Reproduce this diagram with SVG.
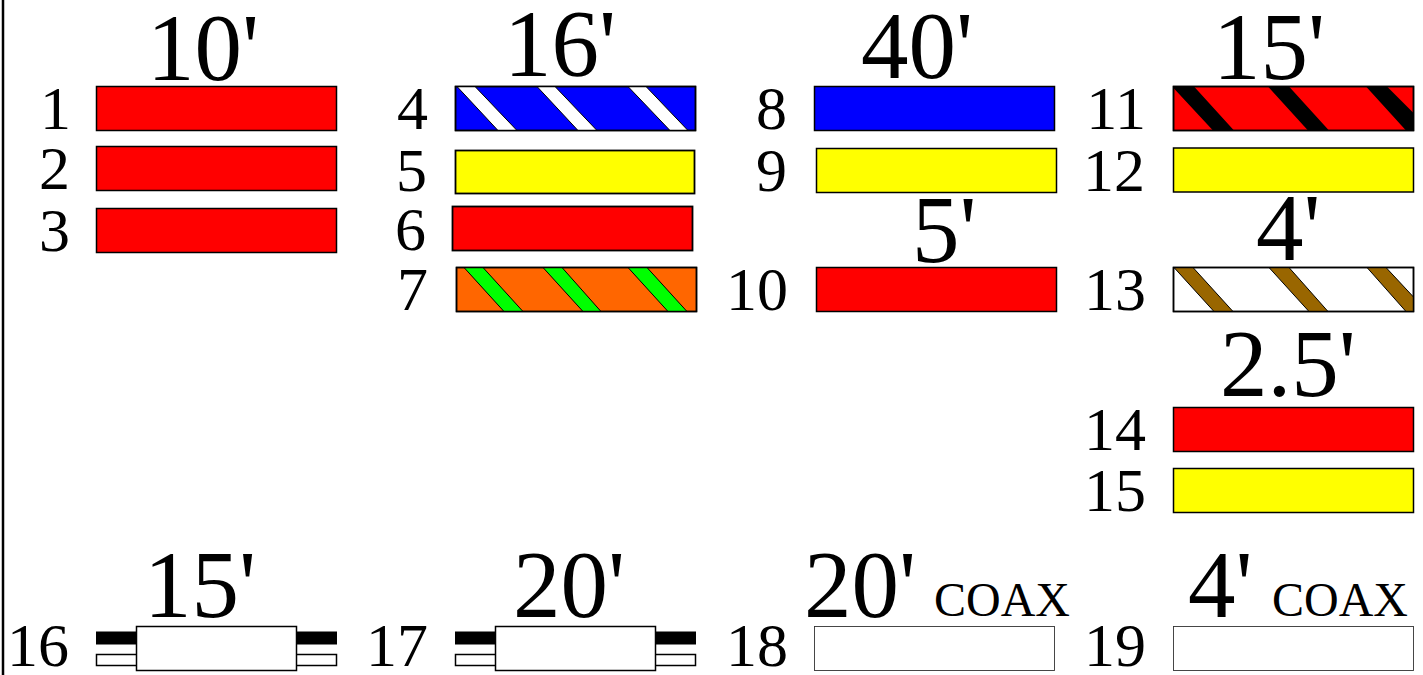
<svg xmlns="http://www.w3.org/2000/svg" width="1423" height="675" viewBox="0 0 1423 675">
<style>
text{font-family:"Liberation Serif","Times New Roman",serif;fill:#000}
.t{font-size:95px}
.n{font-size:62px;text-anchor:end}
.c{font-size:48px}
.b{stroke:#000;stroke-width:1.5}
.h{stroke:#000;stroke-width:1.8}
.red{fill:#f00}.yel{fill:#ff0}.blu{fill:#00f}.org{fill:#f60}.wht{fill:#fff}
.s{stroke:#000;stroke-width:1}
</style>
<rect width="1423" height="675" fill="#fff"/>
<g id="frame"><line x1="3" y1="0" x2="3" y2="675" stroke="#000" stroke-width="2.5"/></g>
<g id="titles">
<text class="t" x="147" y="80">10'</text>
<text class="t" x="504" y="76">16'</text>
<text class="t" x="861" y="78">40'</text>
<text class="t" x="1213" y="79">15'</text>
<text class="t" x="912" y="262">5'</text>
<text class="t" x="1256" y="260">4'</text>
<text class="t" x="1220" y="396">2.5'</text>
<text class="t" x="144" y="617">15'</text>
<text class="t" x="513" y="617">20'</text>
<text class="t" x="804" y="617">20'</text>
<text class="c" x="934" y="616">COAX</text>
<text class="t" x="1188" y="617">4'</text>
<text class="c" x="1272" y="616">COAX</text>
</g>
<g id="n1"><text class="n" x="71" y="129">1</text><rect class="b red" x="96.5" y="86.5" width="240" height="44"/></g>
<g id="n2"><text class="n" x="70" y="189">2</text><rect class="b red" x="96.5" y="146.5" width="240" height="44"/></g>
<g id="n3"><text class="n" x="70" y="251">3</text><rect class="b red" x="96.5" y="208.5" width="240" height="44"/></g>
<g id="n4"><text class="n" x="428" y="129">4</text><rect class="b blu" x="455.5" y="86.5" width="240" height="44"/>
<path class="s wht" d="M457 86.5H475L517 130.5H498ZM537 86.5H555L597 130.5H578ZM628 86.5H646L688 130.5H670Z"/><rect x="455.5" y="86.5" width="240" height="44" fill="none" class="b"/></g>
<g id="n5"><text class="n" x="427" y="191">5</text><rect class="h yel" x="455.5" y="150.5" width="239" height="43"/></g>
<g id="n6"><text class="n" x="426" y="250">6</text><rect class="h red" x="452.5" y="206.5" width="240" height="44"/></g>
<g id="n7"><text class="n" x="428" y="310">7</text><rect class="b org" x="456.5" y="267.5" width="240" height="44"/>
<path class="s" fill="#0f0" d="M464 267.5H483L523 311.5H504ZM543 267.5H562L601 311.5H583ZM628 267.5H647L687 311.5H668Z"/><rect x="456.5" y="267.5" width="240" height="44" fill="none" class="b"/></g>
<g id="n8"><text class="n" x="787" y="129">8</text><rect class="b blu" x="814.5" y="86.5" width="240" height="44"/></g>
<g id="n9"><text class="n" x="787" y="191">9</text><rect class="b yel" x="816.5" y="148.5" width="240" height="44"/></g>
<g id="n10"><text class="n" x="788" y="310">10</text><rect class="b red" x="816.5" y="267.5" width="240" height="44"/></g>
<g id="n11"><text class="n" x="1146" y="129">11</text><rect class="b red" x="1173.5" y="86.5" width="240" height="44"/>
<path fill="#000" d="M1173.5 86.5H1194L1234 130.5H1213L1173.5 88ZM1268 86.5H1289L1329 130.5H1308ZM1366 86.5H1387L1413.5 113V130.5H1406Z"/><rect x="1173.5" y="86.5" width="240" height="44" fill="none" class="b"/></g>
<g id="n12"><text class="n" x="1145" y="191">12</text><rect class="b yel" x="1173.5" y="148" width="240" height="44"/></g>
<g id="n13"><text class="n" x="1146" y="310">13</text><rect class="b wht" x="1173.5" y="267.5" width="240" height="44"/>
<path class="s" fill="#996600" d="M1174 267.5H1193L1233 311.5H1214ZM1269 267.5H1289L1328 311.5H1309ZM1367 267.5H1386L1413.5 297V311.5H1406Z"/><rect x="1173.5" y="267.5" width="240" height="44" fill="none" class="b"/></g>
<g id="n14"><text class="n" x="1146" y="450">14</text><rect class="b red" x="1173.5" y="407.5" width="240" height="44"/></g>
<g id="n15"><text class="n" x="1146" y="511">15</text><rect class="b yel" x="1173.5" y="468.5" width="240" height="44"/></g>
<g id="n16"><text class="n" x="69" y="666">16</text><rect x="96" y="631.5" width="241" height="13" fill="#000"/><rect class="b wht" x="96.5" y="654.5" width="240" height="11"/><rect class="b wht" x="136.5" y="626.5" width="160" height="44"/></g>
<g id="n17"><text class="n" x="428" y="666">17</text><rect x="455" y="631.5" width="241" height="13" fill="#000"/><rect class="b wht" x="455.5" y="654.5" width="240" height="11"/><rect class="b wht" x="495.5" y="626.5" width="160" height="44"/></g>
<g id="n18"><text class="n" x="788" y="666">18</text><rect x="814.5" y="626.5" width="240" height="44" fill="#fff" stroke="#333" stroke-width="0.9"/></g>
<g id="n19"><text class="n" x="1146" y="666">19</text><rect x="1173.5" y="626.5" width="240" height="44" fill="#fff" stroke="#333" stroke-width="0.9"/></g>
<g id="connectors"></g>
</svg>
